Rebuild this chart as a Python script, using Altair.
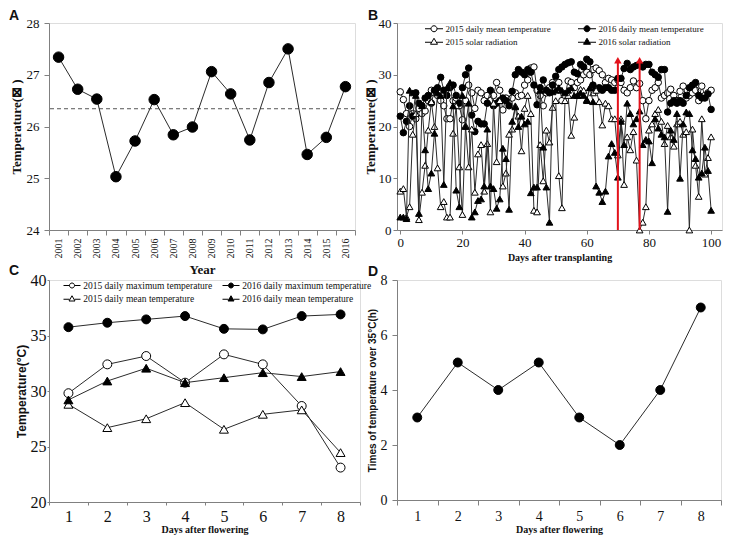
import altair as alt
import pandas as pd

# ---------------- data ----------------
years = list(range(2001, 2017))
temp_a = [27.34, 26.72, 26.53, 25.03, 25.72, 26.52, 25.84, 25.99, 27.06, 26.63,
          25.74, 26.85, 27.50, 25.46, 25.79, 26.77]

days_b = list(range(0, 101))
mean_2015 = [26.7, 25.2, 22.5, 20, 22.5, 21.5, 23.5, 22.5, 23, 25,
             27, 26.5, 26, 25, 24, 21.5, 21.5, 25, 25.5, 24,
             21.3, 25, 28, 26.5, 23.5, 27, 26.5, 25, 26, 25,
             26, 28.5, 27, 23.2, 25.5, 24.5, 25.5, 26.5, 25.8, 26,
             28, 29, 31.3, 31.5, 27, 26, 24, 26.5, 27.5, 28.5,
             28, 28.5, 25, 26, 28.8, 28.5, 27.5, 28.5, 29, 30,
             30.5, 30, 31, 31.3, 30.8, 30, 28.5, 29.3, 29, 28.5,
             29, 28.5, 27, 26.5, 27.5, 28.8, 27.5, 28.3, 25, 21.5,
             25, 27, 27.5, 28.5, 25.5, 26, 26.5, 27.2, 26, 25,
             26.8, 27.8, 25.5, 26, 26.5, 27, 25, 27.8, 26, 26.5, 27]
mean_2016 = [22, 18.8, 21, 24, 22, 26.5, 24.5, 24, 25.5, 26,
             24.5, 27, 27.5, 29.5, 27, 26, 27.5, 28, 26, 24.5,
             27.5, 30, 31.3, 22.2, 19, 21, 20.5, 20.5, 24.5, 27,
             24, 24.5, 25, 25.5, 25, 24, 26.8, 30, 31, 30.5,
             30, 31, 30.5, 28, 24.2, 27.5, 29, 27, 26.5, 28,
             29.7, 31, 31.5, 32, 32.3, 32.5, 30.5, 30.2, 32, 31.5,
             33, 32.5, 28, 27, 27.5, 27, 27.5, 27.5, 27, 27,
             29.3, 29.3, 31.2, 32.2, 31, 31.5, 31.8, 32, 31.5, 32,
             32, 30.5, 30, 29.5, 31, 31, 22.8, 24.5, 25, 24.5,
             25, 24.5, 26, 27.5, 28, 28.5, 26, 25.5, 25.5, 26.3, 23.3]
solar_2015 = [7.5, 8, 2.5, 4.5, 18.5, 22.5, 2, 7.3, 12.5, 19.3,
              24.8, 20, 12, 4.5, 5.5, 2.5, 2.5, 18.7, 24, 12.2,
              3, 20.2, 12.2, 19.5, 7.3, 14.7, 16.5, 7.5, 16.7, 3.5,
              24.5, 13.2, 25, 8.5, 11, 18.5, 19.5, 24, 22, 15.3,
              23.5, 26, 22.5, 3.8, 3.5, 16.5, 9.5, 19.3, 17, 23.7,
              25, 10.5, 4.3, 25, 26, 18.3, 21.8, 26, 27.2, 27,
              25, 27.5, 26.5, 27, 24.8, 20.3, 24.5, 24, 21.5, 21.5,
              14.5, 21.5, 8.8, 18, 15.5, 19, 13.5, 0, 1.5, 4.5,
              19.3, 20.5, 22.5, 23.3, 21, 16.7, 20.2, 18, 16.2, 20.5,
              21, 18.5, 19, 0, 19.5, 12.5, 6.5, 21.5, 10.8, 14, 18]
solar_2016 = [2.5, 2.5, 2.2, 27, 26.5, 26, 3.2, 24, 15.5, 8,
              11, 18.7, 26.5, 26, 8.8, 27.5, 28.5, 24, 7.7, 4.5,
              26, 20, 24.5, 2.5, 3.5, 5.7, 6, 8.5, 19.5, 8.5,
              8, 4.2, 6, 15.8, 13.8, 4, 21, 23.8, 20, 22,
              20.5, 21, 7.2, 8.3, 8.3, 27, 16, 8.3, 1.5, 26.7,
              27, 27.5, 27, 26.5, 27, 27.5, 26, 26, 26.5, 26,
              25.2, 27.5, 24.8, 8.5, 7.3, 5.5, 7.5, 14.3, 16.7, 15,
              10.2, 21, 16.5, 24.5, 22.5, 20.5, 21.5, 23, 16.5, 17.5,
              17.2, 13, 21.5, 19.7, 18.5, 18, 3.6, 19.3, 17.5, 22.5,
              10, 20.5, 22.8, 22.5, 15.5, 13.8, 10.2, 11, 16, 11.5, 3.8]
arrow_days = [70, 77]
arrow_base = [0, 0]
arrow_top = [32.8, 32.8]

days_c = list(range(1, 9))
max_2015 = [29.8, 32.4, 33.15, 30.75, 33.3, 32.4, 28.65, 23.1]
max_2016 = [35.75, 36.15, 36.45, 36.75, 35.6, 35.55, 36.75, 36.9]
meanc_2015 = [28.8, 26.7, 27.5, 28.95, 26.55, 27.9, 28.3, 24.45]
meanc_2016 = [29.2, 30.9, 32.05, 30.75, 31.2, 31.65, 31.3, 31.75]

days_d = list(range(1, 9))
hours_d = [3, 5, 4, 5, 3, 2, 4, 7]

# legend entries, listed column by column (left column first)
names_b = ["2015 daily mean temperature", "2015 solar radiation",
           "2016 daily mean temperature", "2016 solar radiation"]
names_c = ["2015 daily maximum temperature", "2015 daily mean temperature",
           "2016 daily maximum temperature", "2016 daily mean temperature"]

# ---------------- style / layout ----------------
SERIF = "Liberation Serif"
SANS = "Liberation Sans"
LINE = "#2b2b2b"
FRAME = "#808080"
TXT = "#111111"

W_A, H_A = 306, 207
W_B, H_B = 325, 207
W_C, H_C = 311, 222
W_D, H_D = 324, 220
COL_GAP, ROW_GAP = 37, 50

CIRC_B = "M-1.8,0L-0.6,0M0.6,0L1.8,0M0.6,0A0.6,0.6,0,1,1,-0.6,0A0.6,0.6,0,1,1,0.6,0Z"
TRI_B = "M-1.8,0.15L-0.55,0.15M0.55,0.15L1.8,0.15M0,-0.65L0.7,0.55L-0.7,0.55Z"
CIRC_C = "M-1.7,0L-0.5,0M0.5,0L1.7,0M0.5,0A0.5,0.5,0,1,1,-0.5,0A0.5,0.5,0,1,1,0.5,0Z"
TRI_C = "M-1.7,0.15L-0.5,0.15M0.5,0.15L1.7,0.15M0,-0.55L0.6,0.5L-0.6,0.5Z"


def axis(title, lab_font, lab_size, title_font, title_size, tick=5, lpad=3, tpad=4, **kw):
    return alt.Axis(title=title, grid=False, labelFont=lab_font, labelFontSize=lab_size,
                    labelColor=TXT, titleFont=title_font, titleFontSize=title_size,
                    titleFontWeight="bold", titleColor=TXT, tickSize=tick,
                    labelPadding=lpad, titlePadding=tpad, domainColor=FRAME,
                    tickColor=FRAME, **kw)


def letter(t, dx):
    return alt.TitleParams(t, anchor="start", frame="group", font=SANS, fontSize=14,
                           fontWeight="bold", color=TXT, dx=dx, offset=-6)


def series(df, x, y, shape, fill, size):
    base = alt.Chart(df)
    ln = base.mark_line(color=LINE, strokeWidth=1).encode(x=x, y=y)
    pt = base.mark_point(shape=shape, filled=True, fill=fill, stroke="black",
                         strokeWidth=1, size=size, opacity=1).encode(x=x, y=y)
    return [ln, pt]


def legend_layer(field, names, shapes, fills, lx, ly, font_size, col_pad, row_pad, lab_off):
    leg = alt.Legend(title=None, orient="none", legendX=lx, legendY=ly, columns=2,
                     columnPadding=col_pad, rowPadding=row_pad, symbolSize=100,
                     symbolStrokeWidth=1,
                     labelFont=SERIF, labelFontSize=font_size, labelColor=TXT,
                     labelOffset=lab_off, labelLimit=400, padding=0)
    return alt.Chart(pd.DataFrame({field: names})).transform_filter("false").mark_point(
        filled=True, strokeWidth=1, opacity=1).encode(
        shape=alt.Shape(f"{field}:N", scale=alt.Scale(domain=names, range=shapes), legend=leg),
        fill=alt.Fill(f"{field}:N", scale=alt.Scale(domain=names, range=fills), legend=leg),
        stroke=alt.Stroke(f"{field}:N", scale=alt.Scale(domain=names, range=["black"] * len(names)),
                          legend=leg))


# ---------------- panel A ----------------
dfA = pd.DataFrame({"year": years, "temp": temp_a})
scaleA = alt.Scale(domain=[24, 28], nice=False, zero=False)
xA = alt.X("year:O", bandPosition=0.5,
           scale=alt.Scale(type="band", paddingInner=0, paddingOuter=0),
           axis=axis("Year", SERIF, 10, SERIF, 13, tick=5, lpad=3, tpad=5,
                     labelAngle=-90, tickBand="extent"))
yA = alt.Y("temp:Q", scale=scaleA,
           axis=axis("Temperature(\u22a0 )", SERIF, 13, SERIF, 13, tick=5, lpad=5, tpad=3,
                     values=[24, 25, 26, 27, 28], format="d"))
meanA = alt.Chart(dfA).mark_rule(color="#555555", strokeWidth=1, strokeDash=[4, 3]).encode(
    y=alt.Y("mean(temp):Q", scale=scaleA))
chartA = alt.layer(meanA, *series(dfA, xA, yA, "circle", "black", 110)).properties(
    width=W_A, height=H_A, title=letter("A", -40))

# ---------------- panel B ----------------
xB = alt.X("day:Q", scale=alt.Scale(domain=[-1.05, 103.5], nice=False, zero=False),
           axis=axis("Days after transplanting", SERIF, 13, SERIF, 10, tick=4, lpad=2, tpad=3,
                     values=[0, 20, 40, 60, 80, 100]))
yB = alt.Y("v:Q", scale=alt.Scale(domain=[0, 40], nice=False),
           axis=axis("Temperature(\u22a0 )", SERIF, 13, SERIF, 13, tick=4, lpad=2, tpad=1,
                     values=[0, 10, 20, 30, 40]))
layersB = []
for vals, shp, fl, sz in [(mean_2015, "circle", "white", 42),
                          (mean_2016, "circle", "black", 42),
                          (solar_2015, "triangle-up", "white", 45),
                          (solar_2016, "triangle-up", "black", 45)]:
    layersB += series(pd.DataFrame({"day": days_b, "v": vals}), xB, yB, shp, fl, sz)
dfArrow = pd.DataFrame({"day": arrow_days, "base": arrow_base, "top": arrow_top})
arrowRule = alt.Chart(dfArrow).mark_rule(color="#e3121b", strokeWidth=2).encode(
    x=alt.X("day:Q"), y=alt.Y("base:Q"), y2=alt.Y2("top:Q"))
arrowHead = alt.Chart(dfArrow).mark_point(shape="triangle-up", filled=True, color="#e3121b",
                                          size=55, opacity=1).encode(
    x=alt.X("day:Q"), y=alt.Y("top:Q"))
legB = legend_layer("series_b", names_b, [CIRC_B, TRI_B, CIRC_B, TRI_B],
                    ["white", "white", "black", "black"], 31.5, 0, 9, 24, 2, 6)
chartB = alt.layer(*layersB, arrowRule, arrowHead, legB).properties(
    width=W_B, height=H_B, title=letter("B", -29))

# ---------------- panel C ----------------
xC = alt.X("day:O", bandPosition=0.5,
           scale=alt.Scale(type="band", paddingInner=0, paddingOuter=0),
           axis=axis("Days after flowering", SERIF, 16, SERIF, 10, tick=3, lpad=3, tpad=0,
                     labelAngle=0, tickBand="extent"))
yC = alt.Y("v:Q", scale=alt.Scale(domain=[20, 40], nice=False),
           axis=axis("Temperature(\u00b0C)", SERIF, 16, SANS, 12, tick=2, lpad=1, tpad=2,
                     values=[20, 25, 30, 35, 40]))
layersC = []
for vals, shp, fl in [(max_2015, "circle", "white"), (max_2016, "circle", "black"),
                      (meanc_2015, "triangle-up", "white"), (meanc_2016, "triangle-up", "black")]:
    layersC += series(pd.DataFrame({"day": days_c, "v": vals}), xC, yC, shp, fl, 80)
legC = legend_layer("series_c", names_c, [CIRC_C, TRI_C, CIRC_C, TRI_C],
                    ["white", "white", "black", "black"], 17.5, 0, 9.5, 8, 3, 5.7)
chartC = alt.layer(*layersC, legC).properties(width=W_C, height=H_C, title=letter("C", -40))

# ---------------- panel D ----------------
dfD = pd.DataFrame({"day": days_d, "h": hours_d})
xD = alt.X("day:O", bandPosition=0.5,
           scale=alt.Scale(type="band", paddingInner=0, paddingOuter=0),
           axis=axis("Days after flowering", SERIF, 14, SERIF, 10, tick=5, lpad=4, tpad=1,
                     labelAngle=0, tickBand="extent"))
yD = alt.Y("h:Q", scale=alt.Scale(domain=[0, 8], nice=False),
           axis=axis("Times of temperature over 35\u00b0C(h)", SERIF, 14, SANS, 10,
                     tick=5, lpad=5, tpad=3, values=[0, 2, 4, 6, 8]))
chartD = alt.layer(*series(dfD, xD, yD, "circle", "black", 80)).properties(
    width=W_D, height=H_D, title=letter("D", -29))

chart = alt.concat(chartA, chartB, chartC, chartD, columns=2,
                   spacing={"row": ROW_GAP, "column": COL_GAP}, bounds="flush").resolve_scale(
    shape="independent", fill="independent", stroke="independent").resolve_legend(
    shape="independent", fill="independent", stroke="independent").properties(
    padding={"left": 0, "top": 0, "right": 0, "bottom": 0}
).configure_view(stroke=FRAME, strokeWidth=1).configure(background="white")

chart.save("out.html", embed_options={"renderer": "svg", "actions": False})
